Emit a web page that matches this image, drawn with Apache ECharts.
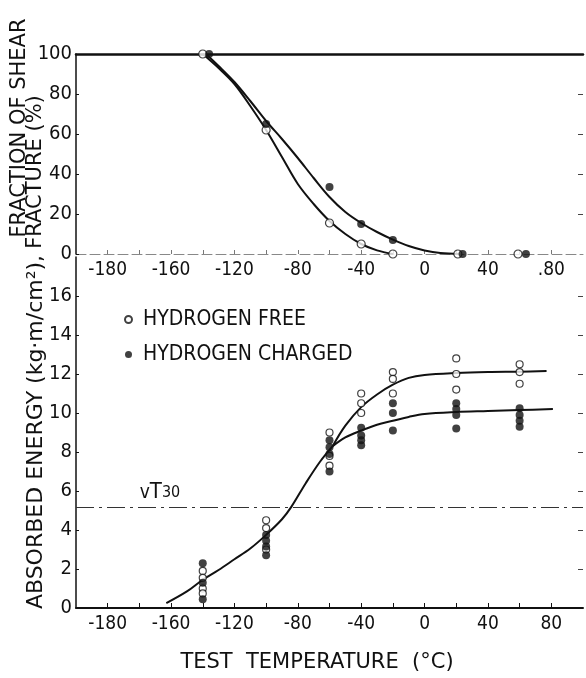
<!DOCTYPE html>
<html>
<head>
<meta charset="utf-8">
<script src="https://cdn.jsdelivr.net/npm/echarts@6/dist/echarts.min.js"></script>
<style>
  html, body { margin: 0; padding: 0; background: #fff; }
  #chart { width: 586px; height: 678px; }
</style>
</head>
<body>
<div id="chart"></div>
<script>
const NARROW = "'DejaVu Sans Condensed','Liberation Sans Narrow','DejaVu Sans',sans-serif";
const WIDE = "'DejaVu Sans','Liberation Sans',sans-serif";
const INK = '#111';

// Temperature axis (°C): ticks every 20, labels as printed on the figure
const tempTicks = [-200, -180, -160, -140, -120, -100, -80, -60, -40, -20, 0, 20, 40, 60, 80];
const tempLabelValues = [-200, -160, -120, -80, -40, 0, 40, 80];
const upperTempLabels = ['-180', '-160', '-120', '-80', '-40', '0', '40', '.80'];
const lowerTempLabels = ['-180', '-160', '-120', '-80', '-40', '0', '40', '80'];
const shearRightTicks = [20, 40, 60, 80];
const energyTicks = [0, 2, 4, 6, 8, 10, 12, 14, 16];
const energyRightTicks = [2, 4, 6, 8, 10, 12, 14, 16];

// Fraction of shear fracture (%) vs temperature
const shearFree = [[-140, 100], [-100, 62], [-60, 15.5], [-40, 5], [-20, 0], [21, 0], [59, 0]];
const shearCharged = [[-136, 100], [-100, 65], [-60, 33.5], [-40, 15], [-20, 7], [24, 0], [64, 0]];
const shearFreeCurve = [[-140, 100], [-130, 93], [-120, 85], [-110, 74], [-100, 62], [-90, 48.5],
  [-80, 35], [-70, 25], [-60, 16.5], [-50, 10], [-40, 5], [-30, 1.8], [-20, 0]];
const shearChargedCurve = [[-138, 100], [-130, 94], [-120, 86], [-110, 76.5], [-100, 66.5], [-90, 57.5],
  [-80, 48], [-70, 38], [-60, 28.5], [-50, 21], [-40, 15.5], [-30, 11], [-20, 7.2], [-10, 4],
  [0, 1.8], [10, 0.5], [22, 0]];

// Absorbed energy (kg·m/cm²) vs temperature
const energyFree = [[-140, 1.9], [-140, 1.55], [-140, 1.0], [-140, 0.75],
  [-100, 4.5], [-100, 4.1], [-100, 3.0],
  [-60, 9.0], [-60, 7.8], [-60, 7.3],
  [-40, 11.0], [-40, 10.5], [-40, 10.0],
  [-20, 12.1], [-20, 11.75], [-20, 11.0],
  [20, 12.8], [20, 12.0], [20, 11.2],
  [60, 12.5], [60, 12.1], [60, 11.5]];
const energyCharged = [[-140, 2.3], [-140, 1.3], [-140, 0.45],
  [-100, 3.75], [-100, 3.45], [-100, 3.15], [-100, 2.7],
  [-60, 8.6], [-60, 8.25], [-60, 7.9], [-60, 7.0],
  [-40, 9.25], [-40, 8.85], [-40, 8.6], [-40, 8.35],
  [-20, 10.5], [-20, 10.0], [-20, 9.1],
  [20, 10.5], [20, 10.2], [20, 9.9], [20, 9.2],
  [60, 10.25], [60, 9.9], [60, 9.6], [60, 9.3]];
const energyLowerCurve = [[-163, 0.25], [-150, 0.85], [-140, 1.45], [-130, 1.95], [-120, 2.5],
  [-110, 3.05], [-100, 3.75], [-90, 4.55], [-84, 5.2], [-75, 6.4], [-66, 7.5], [-58, 8.3]];
const energyFreeCurve = [[-58, 8.3], [-50, 9.35], [-40, 10.3], [-30, 10.95], [-20, 11.45],
  [-10, 11.8], [0, 11.95], [20, 12.05], [40, 12.1], [60, 12.12], [77, 12.15]];
const energyChargedCurve = [[-58, 8.3], [-50, 8.75], [-40, 9.1], [-30, 9.4], [-20, 9.6],
  [-10, 9.8], [0, 9.95], [20, 10.05], [40, 10.1], [60, 10.15], [81, 10.2]];
const vT30Level = 5.15;
const vT30LabelTemp = -167;

const chart = echarts.init(document.getElementById('chart'), null, { renderer: 'canvas' });

const labelFont = { fontFamily: NARROW, fontSize: 19, color: INK };

function tempAxis(grid, labels, dashed) {
  return {
    type: 'value', gridIndex: grid, min: -220, max: 100, position: 'bottom',
    axisLine: { show: true, onZero: false, lineStyle: dashed
      ? { color: '#888', width: 1, type: [10, 4] }
      : { color: INK, width: 2 } },
    axisTick: { show: true, inside: true, length: dashed ? 4 : 5, customValues: tempTicks,
      lineStyle: { color: dashed ? '#777' : INK, width: 1 } },
    axisLabel: Object.assign({ show: true, margin: 7, customValues: tempLabelValues,
      formatter: v => labels[tempLabelValues.indexOf(v)] }, labelFont),
    splitLine: { show: false }
  };
}

function yAxisLeft(grid, max, extra) {
  return Object.assign({
    type: 'value', gridIndex: grid, min: 0, max: max, position: 'left',
    axisLine: { show: true, onZero: false, lineStyle: { color: INK, width: 1.5 } },
    splitLine: { show: false }
  }, extra);
}

function yAxisRight(grid, max, ticks) {
  return {
    type: 'value', gridIndex: grid, min: 0, max: max, position: 'right',
    axisLine: { show: false, onZero: false },
    axisTick: { show: true, inside: true, length: 5, customValues: ticks,
      lineStyle: { color: '#444' } },
    axisLabel: { show: false }, splitLine: { show: false }
  };
}

const curveLine = { color: INK, width: 2 };
const openMark = { color: '#fff', borderColor: INK, borderWidth: 1.2 };
const solidMark = { color: INK };

const option = {
  backgroundColor: '#fff',
  animation: false,
  grid: [
    { left: 76, right: 3, top: 54, height: 200 },
    { left: 76, right: 3, top: 257, height: 351 }
  ],
  xAxis: [
    tempAxis(0, upperTempLabels, true),
    { type: 'value', gridIndex: 0, min: -220, max: 100, position: 'top',
      axisLine: { show: true, onZero: false, lineStyle: { color: INK, width: 2.5 } },
      axisTick: { show: false }, axisLabel: { show: false }, splitLine: { show: false } },
    tempAxis(1, lowerTempLabels, false)
  ],
  yAxis: [
    yAxisLeft(0, 100, {
      interval: 20,
      axisTick: { show: true, inside: true, length: 3, lineStyle: { color: INK } },
      axisLabel: Object.assign({ margin: 4 }, labelFont, { fontSize: 20 })
    }),
    yAxisRight(0, 100, shearRightTicks),
    yAxisLeft(1, 18, {
      axisTick: { show: true, inside: true, length: 3, customValues: energyTicks,
        lineStyle: { color: INK } },
      axisLabel: Object.assign({ margin: 4, customValues: energyTicks }, labelFont, { fontSize: 20 })
    }),
    yAxisRight(1, 18, energyRightTicks)
  ],
  legend: {
    data: ['HYDROGEN FREE', 'HYDROGEN CHARGED'],
    orient: 'vertical', left: 119, top: 304,
    icon: 'circle', itemWidth: 7, itemHeight: 7, itemGap: 14,
    textStyle: { fontFamily: NARROW, fontSize: 21, color: INK, padding: [0, 0, 0, 6] }
  },
  series: [
    { type: 'line', name: 'shear-free-fit', xAxisIndex: 0, yAxisIndex: 0, data: shearFreeCurve,
      smooth: 0.35, showSymbol: false, symbol: 'none', lineStyle: curveLine, z: 2 },
    { type: 'line', name: 'shear-charged-fit', xAxisIndex: 0, yAxisIndex: 0, data: shearChargedCurve,
      smooth: 0.35, showSymbol: false, symbol: 'none', lineStyle: curveLine, z: 2 },
    { type: 'scatter', name: 'HYDROGEN FREE', xAxisIndex: 0, yAxisIndex: 0, data: shearFree,
      symbol: 'circle', symbolSize: 8, itemStyle: openMark, z: 5 },
    { type: 'scatter', name: 'HYDROGEN CHARGED', xAxisIndex: 0, yAxisIndex: 0, data: shearCharged,
      symbol: 'circle', symbolSize: 8, itemStyle: solidMark, z: 6 },

    { type: 'line', name: 'energy-lower-fit', xAxisIndex: 2, yAxisIndex: 2, data: energyLowerCurve,
      smooth: 0.35, showSymbol: false, symbol: 'none', lineStyle: curveLine, z: 2,
      markLine: {
        silent: true, symbol: 'none', label: { show: false },
        lineStyle: { color: '#333', width: 1, type: [18, 5, 3, 5] },
        data: [{ yAxis: vT30Level }]
      } },
    { type: 'line', name: 'energy-free-fit', xAxisIndex: 2, yAxisIndex: 2, data: energyFreeCurve,
      smooth: 0.35, showSymbol: false, symbol: 'none', lineStyle: curveLine, z: 2 },
    { type: 'line', name: 'energy-charged-fit', xAxisIndex: 2, yAxisIndex: 2, data: energyChargedCurve,
      smooth: 0.35, showSymbol: false, symbol: 'none', lineStyle: curveLine, z: 2 },
    { type: 'scatter', name: 'HYDROGEN FREE', xAxisIndex: 2, yAxisIndex: 2, data: energyFree,
      symbol: 'circle', symbolSize: 7, itemStyle: openMark, z: 5 },
    { type: 'scatter', name: 'HYDROGEN CHARGED', xAxisIndex: 2, yAxisIndex: 2, data: energyCharged,
      symbol: 'circle', symbolSize: 8, itemStyle: solidMark, z: 6 }
  ]
};

chart.setOption(option);

// Axis titles and the vT30 tag
const titleFont = { fontFamily: WIDE, fontSize: 21, fill: INK };
const vPos = chart.convertToPixel({ xAxisIndex: 2, yAxisIndex: 2 }, [vT30LabelTemp, vT30Level]);
function rotatedTitle(text, x, y, size) {
  return { type: 'text', x: x, y: y, rotation: Math.PI / 2,
    style: Object.assign({ text: text, textAlign: 'center', textVerticalAlign: 'middle' },
      titleFont, size ? { fontSize: size } : {}) };
}
chart.setOption({
  graphic: [
    { type: 'text', x: 317, y: 663, style: Object.assign({ text: 'TEST  TEMPERATURE  (°C)',
      textAlign: 'center', textVerticalAlign: 'middle' }, titleFont) },
    rotatedTitle('FRACTION OF SHEAR', 20, 128),
    rotatedTitle('FRACTURE (%)', 36, 172),
    rotatedTitle('ABSORBED ENERGY (kg·m/cm²),', 36, 432, 22),
    { type: 'text', x: vPos[0], y: vPos[1] - 4, style: {
      text: '{v|v}{t|T}{s|30}', textAlign: 'center', textVerticalAlign: 'bottom',
      rich: {
        v: { fontFamily: NARROW, fontSize: 19, fill: INK },
        t: { fontFamily: NARROW, fontSize: 22, fill: INK },
        s: { fontFamily: NARROW, fontSize: 16, fill: INK }
      } } }
  ]
});
</script>
</body>
</html>
